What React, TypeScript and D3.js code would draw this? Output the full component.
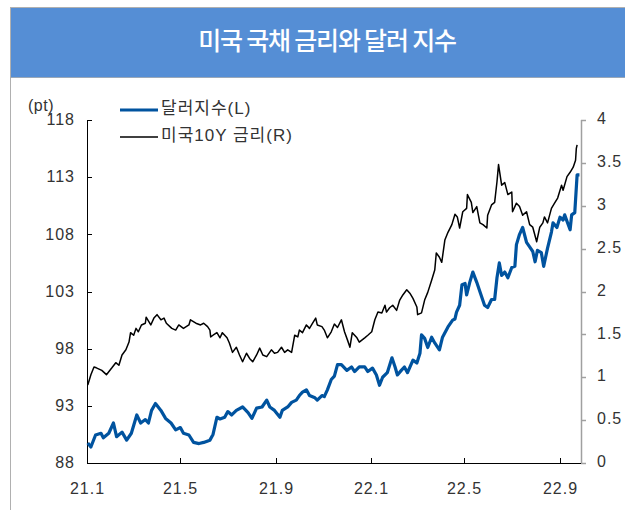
import React from "react";
import * as d3 from "d3";

const title = "미국 국채 금리와 달러 지수";
const unitLabel = "(pt)";
const legendLabels = ["달러지수(L)", "미국10Y 금리(R)"];
const leftTicks = [88, 93, 98, 103, 108, 113, 118];
const rightTicks = [0, 0.5, 1, 1.5, 2, 2.5, 3, 3.5, 4];
const xTickDates = ["2021-01-01", "2021-05-01", "2021-09-01", "2022-01-01", "2022-05-01", "2022-09-01"];
const xTickLabels = ["21.1", "21.5", "21.9", "22.1", "22.5", "22.9"];

const dollarIndex: [string, number][] = [
  ["2021-01-02", 89.75], ["2021-01-06", 89.4], ["2021-01-12", 90.45], ["2021-01-19", 90.6],
  ["2021-01-22", 90.2], ["2021-01-29", 90.6], ["2021-02-04", 91.5], ["2021-02-08", 90.3],
  ["2021-02-15", 90.7], ["2021-02-21", 90.0], ["2021-02-27", 90.6], ["2021-03-06", 92.2],
  ["2021-03-11", 91.5], ["2021-03-17", 91.8], ["2021-03-21", 91.5], ["2021-03-25", 92.6],
  ["2021-03-30", 93.2], ["2021-04-06", 92.6], ["2021-04-12", 91.9], ["2021-04-19", 91.5],
  ["2021-04-25", 90.9], ["2021-05-01", 91.1], ["2021-05-05", 90.6], ["2021-05-12", 90.45],
  ["2021-05-18", 89.8], ["2021-05-25", 89.7], ["2021-05-31", 89.8], ["2021-06-08", 90.0],
  ["2021-06-12", 90.5], ["2021-06-17", 92.0], ["2021-06-21", 91.85], ["2021-06-27", 92.0],
  ["2021-07-01", 92.5], ["2021-07-06", 92.2], ["2021-07-12", 92.6], ["2021-07-20", 92.9],
  ["2021-07-27", 92.4], ["2021-08-01", 91.9], ["2021-08-07", 92.8], ["2021-08-14", 92.9],
  ["2021-08-20", 93.5], ["2021-08-24", 92.9], ["2021-08-30", 92.6], ["2021-09-06", 92.0],
  ["2021-09-09", 92.6], ["2021-09-16", 92.9], ["2021-09-21", 93.3], ["2021-09-27", 93.5],
  ["2021-10-01", 93.9], ["2021-10-05", 94.2], ["2021-10-10", 94.4], ["2021-10-14", 93.9],
  ["2021-10-21", 93.7], ["2021-10-24", 93.5], ["2021-10-30", 93.9], ["2021-11-02", 93.8],
  ["2021-11-06", 94.4], ["2021-11-11", 95.3], ["2021-11-15", 95.6], ["2021-11-19", 96.6],
  ["2021-11-24", 96.6], ["2021-12-01", 96.1], ["2021-12-07", 96.4], ["2021-12-11", 96.0],
  ["2021-12-17", 96.4], ["2021-12-24", 96.4], ["2021-12-28", 96.0], ["2022-01-03", 96.3],
  ["2022-01-08", 95.7], ["2022-01-12", 94.8], ["2022-01-16", 95.5], ["2022-01-22", 95.9],
  ["2022-01-28", 97.2], ["2022-02-01", 96.4], ["2022-02-04", 95.7], ["2022-02-09", 96.1],
  ["2022-02-13", 96.4], ["2022-02-17", 95.9], ["2022-02-24", 97.0], ["2022-03-01", 96.75],
  ["2022-03-05", 97.6], ["2022-03-07", 99.2], ["2022-03-11", 98.9], ["2022-03-15", 98.1],
  ["2022-03-20", 99.0], ["2022-03-24", 98.5], ["2022-03-30", 97.9], ["2022-04-03", 99.0],
  ["2022-04-10", 99.9], ["2022-04-16", 100.5], ["2022-04-19", 100.6], ["2022-04-21", 101.2],
  ["2022-04-25", 101.8], ["2022-04-28", 103.6], ["2022-05-02", 103.7], ["2022-05-04", 102.7],
  ["2022-05-08", 103.8], ["2022-05-12", 104.7], ["2022-05-17", 103.8], ["2022-05-21", 103.0],
  ["2022-05-27", 101.8], ["2022-05-31", 101.6], ["2022-06-05", 102.3], ["2022-06-09", 102.3],
  ["2022-06-12", 104.2], ["2022-06-15", 105.5], ["2022-06-18", 104.4], ["2022-06-22", 104.7],
  ["2022-06-26", 104.2], ["2022-07-01", 105.1], ["2022-07-05", 105.2], ["2022-07-07", 107.1],
  ["2022-07-11", 108.0], ["2022-07-15", 108.6], ["2022-07-20", 107.3], ["2022-07-24", 106.9],
  ["2022-07-28", 106.5], ["2022-07-31", 105.6], ["2022-08-03", 106.6], ["2022-08-08", 106.4],
  ["2022-08-11", 105.2], ["2022-08-16", 106.8], ["2022-08-21", 108.2], ["2022-08-23", 109.0],
  ["2022-08-28", 108.6], ["2022-09-01", 109.5], ["2022-09-05", 109.25], ["2022-09-07", 109.7],
  ["2022-09-14", 108.4], ["2022-09-16", 109.7], ["2022-09-20", 109.9], ["2022-09-23", 113.2],
  ["2022-09-26", 113.2],
];

const us10y: [string, number][] = [
  ["2021-01-02", 0.91], ["2021-01-06", 1.03], ["2021-01-10", 1.12], ["2021-01-13", 1.11],
  ["2021-01-20", 1.08], ["2021-01-26", 1.03], ["2021-02-02", 1.11], ["2021-02-07", 1.17],
  ["2021-02-11", 1.14], ["2021-02-15", 1.26], ["2021-02-20", 1.32], ["2021-02-24", 1.41],
  ["2021-02-26", 1.52], ["2021-03-02", 1.49], ["2021-03-05", 1.57], ["2021-03-08", 1.53],
  ["2021-03-12", 1.61], ["2021-03-17", 1.63], ["2021-03-18", 1.70], ["2021-03-24", 1.61],
  ["2021-03-28", 1.69], ["2021-04-01", 1.73], ["2021-04-06", 1.67], ["2021-04-10", 1.69],
  ["2021-04-13", 1.63], ["2021-04-20", 1.57], ["2021-04-25", 1.55], ["2021-04-29", 1.61],
  ["2021-05-05", 1.57], ["2021-05-12", 1.61], ["2021-05-14", 1.67], ["2021-05-21", 1.63],
  ["2021-05-27", 1.61], ["2021-05-31", 1.63], ["2021-06-05", 1.59], ["2021-06-08", 1.55],
  ["2021-06-09", 1.47], ["2021-06-12", 1.49], ["2021-06-17", 1.52], ["2021-06-21", 1.46],
  ["2021-06-24", 1.52], ["2021-06-30", 1.46], ["2021-07-03", 1.40], ["2021-07-07", 1.29],
  ["2021-07-12", 1.35], ["2021-07-16", 1.26], ["2021-07-20", 1.18], ["2021-07-25", 1.28],
  ["2021-07-29", 1.22], ["2021-08-02", 1.18], ["2021-08-07", 1.26], ["2021-08-11", 1.34],
  ["2021-08-15", 1.26], ["2021-08-20", 1.24], ["2021-08-26", 1.32], ["2021-08-30", 1.28],
  ["2021-09-03", 1.29], ["2021-09-08", 1.35], ["2021-09-12", 1.29], ["2021-09-16", 1.32],
  ["2021-09-21", 1.29], ["2021-09-25", 1.49], ["2021-09-29", 1.47], ["2021-10-01", 1.55],
  ["2021-10-05", 1.52], ["2021-10-10", 1.61], ["2021-10-14", 1.57], ["2021-10-18", 1.63],
  ["2021-10-22", 1.69], ["2021-10-24", 1.61], ["2021-10-30", 1.59], ["2021-11-02", 1.55],
  ["2021-11-06", 1.46], ["2021-11-11", 1.53], ["2021-11-15", 1.62], ["2021-11-19", 1.58],
  ["2021-11-24", 1.67], ["2021-11-28", 1.53], ["2021-12-02", 1.43], ["2021-12-05", 1.35],
  ["2021-12-08", 1.52], ["2021-12-14", 1.46], ["2021-12-17", 1.41], ["2021-12-24", 1.46],
  ["2021-12-28", 1.49], ["2022-01-02", 1.53], ["2022-01-06", 1.67], ["2022-01-10", 1.76],
  ["2022-01-15", 1.75], ["2022-01-19", 1.84], ["2022-01-21", 1.76], ["2022-01-25", 1.81],
  ["2022-01-29", 1.84], ["2022-02-03", 1.78], ["2022-02-07", 1.90], ["2022-02-11", 1.96],
  ["2022-02-16", 2.02], ["2022-02-20", 1.98], ["2022-02-24", 1.92], ["2022-03-01", 1.82],
  ["2022-03-02", 1.73], ["2022-03-07", 1.75], ["2022-03-11", 1.90], ["2022-03-15", 1.99],
  ["2022-03-20", 2.13], ["2022-03-24", 2.25], ["2022-03-26", 2.45], ["2022-03-30", 2.40],
  ["2022-04-02", 2.34], ["2022-04-06", 2.60], ["2022-04-10", 2.69], ["2022-04-15", 2.78],
  ["2022-04-19", 2.90], ["2022-04-22", 2.87], ["2022-04-25", 2.74], ["2022-04-29", 2.93],
  ["2022-05-04", 2.97], ["2022-05-05", 3.13], ["2022-05-10", 3.04], ["2022-05-12", 2.92],
  ["2022-05-17", 2.99], ["2022-05-21", 2.80], ["2022-05-25", 2.78], ["2022-05-30", 2.74],
  ["2022-05-31", 2.89], ["2022-06-05", 3.01], ["2022-06-09", 3.04], ["2022-06-12", 3.28],
  ["2022-06-14", 3.48], ["2022-06-18", 3.24], ["2022-06-22", 3.27], ["2022-06-26", 3.13],
  ["2022-07-01", 3.16], ["2022-07-02", 2.93], ["2022-07-07", 3.03], ["2022-07-11", 2.99],
  ["2022-07-15", 2.89], ["2022-07-20", 2.93], ["2022-07-24", 2.78], ["2022-07-28", 2.75],
  ["2022-08-02", 2.58], ["2022-08-06", 2.75], ["2022-08-10", 2.80], ["2022-08-12", 2.87],
  ["2022-08-16", 2.80], ["2022-08-21", 2.97], ["2022-08-25", 3.03], ["2022-08-29", 3.09],
  ["2022-09-03", 3.24], ["2022-09-05", 3.18], ["2022-09-10", 3.34], ["2022-09-14", 3.39],
  ["2022-09-18", 3.45], ["2022-09-21", 3.53], ["2022-09-22", 3.67], ["2022-09-23", 3.71],
];

const W = 625;
const H = 510;
const M = { left: 87, right: 581, top: 120, bottom: 463 };
const FONT = "'Liberation Sans', Arial, 'Noto Sans CJK KR', sans-serif";

export default function App() {
  const parse = d3.timeParse("%Y-%m-%d");
  const x = d3
    .scaleTime()
    .domain([parse("2021-01-01")!, parse("2022-09-28")!])
    .range([M.left, M.right]);
  const yL = d3.scaleLinear().domain([88, 118]).range([M.bottom, M.top]);
  const yR = d3.scaleLinear().domain([0, 4]).range([M.bottom, M.top]);

  const lineL = d3
    .line<[string, number]>()
    .x((d) => x(parse(d[0])!))
    .y((d) => yL(d[1]));
  const lineR = d3
    .line<[string, number]>()
    .x((d) => x(parse(d[0])!))
    .y((d) => yR(d[1]));

  const labelStyle = { fontFamily: FONT, fontSize: 16, fill: "#333", letterSpacing: 1 } as const;

  return (
    <div style={{ position: "absolute", left: 0, top: 0, width: W, height: H }}>
      <svg width={W} height={H} style={{ display: "block", background: "#fff" }}>
        {/* frame */}
        <rect x={10.5} y={7.5} width={W} height={H} fill="#fff" stroke="#b0b0b0" />
        <rect x={11} y={8} width={W} height={69} fill="#558ED5" />
        <line x1={10.5} x2={W} y1={77.5} y2={77.5} stroke="#9aa8b8" />
        <text
          x={327}
          y={43}
          textAnchor="middle"
          dominantBaseline="middle"
          fill="#fff"
          style={{ fontFamily: "'Noto Sans CJK KR', sans-serif", fontSize: 25, fontWeight: 500, letterSpacing: -1.2 }}
        >
          {title}
        </text>

        {/* unit */}
        <text x={28} y={111} style={{ ...labelStyle, letterSpacing: 0.5 }}>
          {unitLabel}
        </text>

        {/* left axis */}
        <line x1={M.left + 0.5} x2={M.left + 0.5} y1={M.top} y2={M.bottom} stroke="#000" />
        {leftTicks.map((t) => (
          <g key={"l" + t}>
            <line x1={M.left} x2={M.left + 5} y1={Math.round(yL(t)) + 0.5} y2={Math.round(yL(t)) + 0.5} stroke="#000" />
            <text x={75} y={yL(t) + 1} textAnchor="end" dominantBaseline="middle" style={labelStyle}>
              {t}
            </text>
          </g>
        ))}

        {/* right axis */}
        <line x1={M.right + 0.5} x2={M.right + 0.5} y1={M.top} y2={M.bottom} stroke="#a0a0a0" strokeWidth={1.5} />
        {rightTicks.map((t) => (
          <g key={"r" + t}>
            <line x1={M.right} x2={M.right + 5} y1={Math.round(yR(t)) + 0.5} y2={Math.round(yR(t)) + 0.5} stroke="#a0a0a0" strokeWidth={1.5} />
            <text x={597} y={yR(t)} dominantBaseline="middle" style={labelStyle}>
              {String(t)}
            </text>
          </g>
        ))}

        {/* x axis */}
        <line x1={M.left} x2={M.right} y1={M.bottom + 0.5} y2={M.bottom + 0.5} stroke="#000" />
        {xTickDates.map((d, i) => {
          const px = Math.round(x(parse(d)!)) + 0.5;
          return (
            <g key={d}>
              <line x1={px} x2={px} y1={M.bottom} y2={M.bottom - 5} stroke="#000" />
              <text x={px} y={494} textAnchor="middle" style={labelStyle}>
                {xTickLabels[i]}
              </text>
            </g>
          );
        })}

        {/* series */}
        <path d={lineR(us10y) || ""} fill="none" stroke="#000" strokeWidth={1.5} strokeLinejoin="round" />
        <path d={lineL(dollarIndex) || ""} fill="none" stroke="#00539F" strokeWidth={3.2} strokeLinejoin="round" />

        {/* legend */}
        <line x1={120} x2={158} y1={110} y2={110} stroke="#00539F" strokeWidth={3} />
        <text x={161} y={110} dominantBaseline="middle" style={{ ...labelStyle, fontSize: 17 }}>
          {legendLabels[0]}
        </text>
        <line x1={120} x2={158} y1={137} y2={137} stroke="#000" strokeWidth={1.5} />
        <text x={161} y={137} dominantBaseline="middle" style={{ ...labelStyle, fontSize: 17 }}>
          {legendLabels[1]}
        </text>
      </svg>
    </div>
  );
}
